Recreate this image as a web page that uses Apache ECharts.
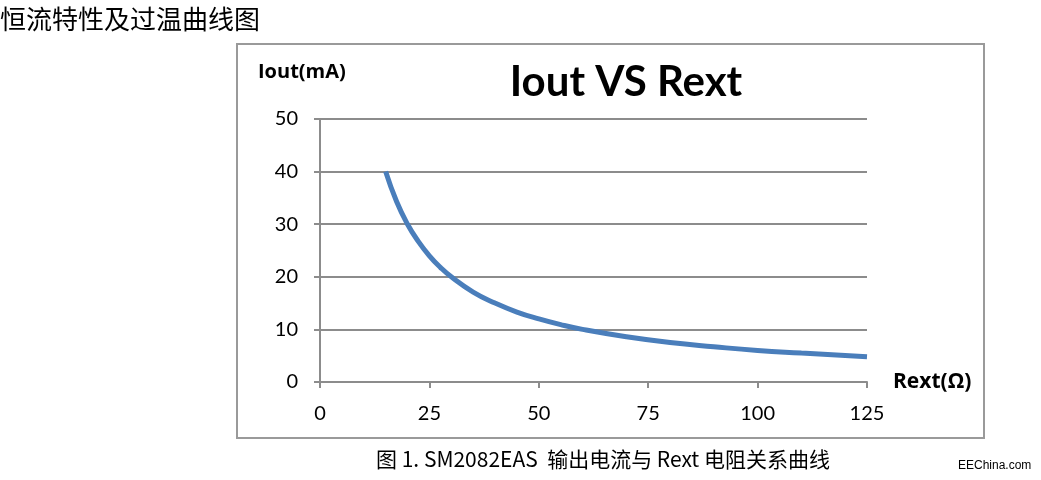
<!DOCTYPE html>
<html>
<head>
<meta charset="utf-8">
<script src="https://cdn.jsdelivr.net/npm/echarts@6/dist/echarts.min.js"></script>
<style>
html,body{margin:0;padding:0;background:#fff;}
#c{width:1041px;height:480px;}
</style>
</head>
<body>
<div id="c"></div>
<script>
// Data
const rext = [15, 17.5, 20, 22.5, 25, 27.5, 30, 35, 40, 45, 50, 55, 60, 70, 80, 90, 100, 110, 125];
const iout = [40, 34.3, 30, 26.7, 24, 21.8, 20, 17.1, 15, 13.3, 12, 10.9, 10, 8.6, 7.5, 6.7, 6, 5.5, 4.8];
const xTicks = [0, 25, 50, 75, 100, 125];
const yTicks = [0, 10, 20, 30, 40, 50];
const titleText = 'Iout VS Rext';
const yName = 'Iout(mA)';
const xName = 'Rext(Ω)';
const headText = '恒流特性及过温曲线图';
const captionText = '图 1. SM2082EAS  输出电流与 Rext 电阻关系曲线';
const sourceText = 'EEChina.com';

const chart = echarts.init(document.getElementById('c'));
const axisColor = '#8c8c8c';
const labelFont = 'Lato, "Open Sans", sans-serif';
chart.setOption({
  animation: false,
  backgroundColor: '#fff',
  grid: {left: 320, right: 174, top: 119, bottom: 98},
  title: {
    text: titleText, left: 621, top: 56, textAlign: 'center',
    textStyle: {fontFamily: labelFont, fontWeight: 'bold', fontSize: 42, color: '#000'}
  },
  xAxis: {
    type: 'value', min: xTicks[0], max: xTicks[xTicks.length - 1], interval: 25,
    axisLine: {show: true, lineStyle: {color: axisColor, width: 2}},
    axisTick: {show: true, length: 6, lineStyle: {color: axisColor, width: 2}},
    splitLine: {show: false},
    axisLabel: {margin: 22, fontSize: 20, color: '#000', fontFamily: labelFont}
  },
  yAxis: {
    type: 'value', min: yTicks[0], max: yTicks[yTicks.length - 1], interval: 10,
    axisLine: {show: true, lineStyle: {color: axisColor, width: 2}},
    axisTick: {show: true, length: 6, lineStyle: {color: axisColor, width: 2}},
    splitLine: {show: true, lineStyle: {color: axisColor, width: 2}},
    axisLabel: {margin: 22, fontSize: 20, color: '#000', fontFamily: labelFont}
  },
  series: [{
    type: 'line', smooth: true, showSymbol: false,
    data: rext.map((x, i) => [x, iout[i]]),
    lineStyle: {color: '#4a7ebb', width: 5},
    itemStyle: {color: '#4a7ebb'}
  }],
  graphic: [
    {type: 'rect', shape: {x: 237, y: 44, width: 747, height: 394},
     style: {fill: 'none', stroke: '#9a9a9a', lineWidth: 2}},
    {type: 'text', left: 258, top: 62,
     style: {text: yName, font: 'bold 20px "Open Sans", sans-serif', fill: '#000'}},
    {type: 'text', left: 893, top: 372,
     style: {text: xName, font: 'bold 21px "Open Sans", sans-serif', fill: '#000'}},
    {type: 'text', left: 0, top: 6,
     style: {text: headText, font: '26px "Noto Sans CJK SC", sans-serif', fill: '#000'}},
    {type: 'text', left: 376, top: 449,
     style: {text: captionText, font: '21px "Noto Sans CJK SC", "Liberation Sans", sans-serif', fill: '#000'}},
    {type: 'text', left: 958, top: 460,
     style: {text: sourceText, font: '12px "Liberation Sans", sans-serif', fill: '#000'}}
  ]
});
</script>
</body>
</html>
